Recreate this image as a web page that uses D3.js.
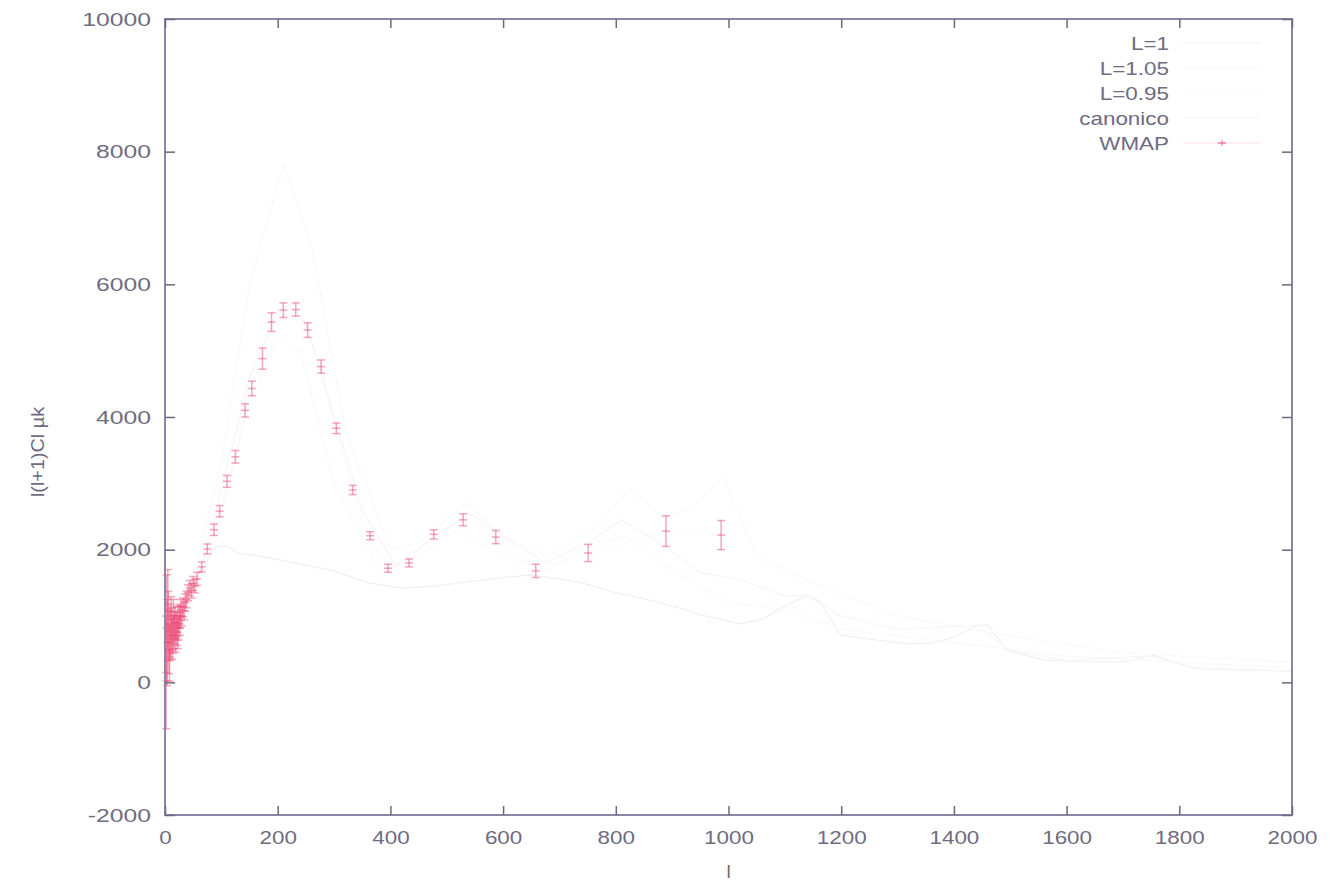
<!DOCTYPE html>
<html lang="en">

<head>
    <meta charset="UTF-8" />
    <title>l(l+1)Cl - WMAP vs models</title>
    <script src="https://d3js.org/d3.v7.min.js"></script>
    <style>
        body {
            margin: 0;
            background: #fff;
        }

        svg text {
            font-family: "Liberation Sans", Arial, sans-serif;
            fill: #6f6b80;
        }
    </style>
</head>

<body>
    <div id="chart"></div>

    <script>
        // tick labels
        const xTicks = [0, 200, 400, 600, 800, 1000, 1200, 1400, 1600, 1800, 2000];
        const yTicks = [-2000, 0, 2000, 4000, 6000, 8000, 10000];

        // legend entries (same order as in the plot key)
        const seriesNames = ["L=1", "L=1.05", "L=0.95", "canonico", "WMAP"];

        const curveL1 = [[2, 900], [10, 800], [30, 1000], [60, 1600], [90, 2050], [110, 2050], [130, 1950],
            [170, 1900], [230, 1800], [300, 1680], [360, 1500], [420, 1420], [480, 1450], [540, 1520],
            [600, 1580], [650, 1620], [700, 1560], [740, 1500], [800, 1350], [880, 1200], [960, 1000],
            [1020, 880], [1060, 950], [1100, 1150], [1140, 1310], [1160, 1230], [1200, 710], [1270, 630],
            [1320, 580], [1360, 590], [1400, 680], [1440, 860], [1460, 860], [1495, 480], [1560, 340],
            [1620, 310], [1700, 310], [1755, 410], [1790, 300], [1830, 210], [1920, 185], [2000, 170]];

        const curveL105 = [[2, 1100], [20, 1000], [50, 1600], [100, 3300], [150, 6000], [210, 7800],
            [260, 6600], [320, 3800], [400, 2000], [450, 2100], [535, 2700], [600, 2200], [680, 1900],
            [760, 2300], [825, 2930], [880, 2500], [930, 2600], [990, 3100], [1050, 1900], [1150, 1500],
            [1300, 1000], [1500, 700], [1700, 450], [2000, 300]];

        const curveL095 = [[2, 1000], [30, 900], [80, 1900], [150, 4200], [200, 5200], [240, 5000],
            [300, 3000], [380, 1700], [450, 1900], [520, 2300], [600, 1900], [680, 1700], [760, 2100],
            [820, 2200], [900, 1700], [1000, 1200], [1100, 1100], [1200, 800], [1400, 600], [1600, 400],
            [1800, 300], [2000, 220]];

        const curveCanonico = [[2, 1000], [10, 800], [30, 1000], [60, 1600], [100, 2900], [150, 4600],
            [200, 5600], [220, 5700], [250, 5400], [300, 4000], [350, 2600], [410, 1750], [470, 2150],
            [540, 2550], [600, 2200], [675, 1800], [750, 2100], [810, 2450], [870, 2150], [950, 1650],
            [1020, 1550], [1100, 1300], [1140, 1310], [1200, 1000], [1300, 800], [1440, 860], [1500, 480],
            [1600, 330], [1750, 400], [1830, 210], [2000, 170]];

        // WMAP points with errors
        const wmapL = [2, 3, 4, 5, 6, 7, 8, 9, 10, 11, 12, 13, 14, 15, 16, 17, 18, 19, 20, 21, 22, 23, 24, 25,
            26, 27, 28, 30, 32, 34, 36, 38, 41, 44, 47, 50, 53, 57, 65, 75, 87, 97, 110, 125, 142, 154, 173,
            189, 210, 232, 253, 277, 304, 333, 364, 396, 433, 477, 529, 587, 658, 751, 889, 987];
        const wmapCl = [150, 820, 600, 1100, 850, 600, 450, 780, 700, 950, 800, 650, 720, 980, 760, 820, 900,
            680, 850, 760, 950, 700, 820, 1000, 880, 980, 1090, 1000, 1130, 1080, 1200, 1250, 1350, 1420, 1380,
            1490, 1450, 1560, 1740, 2010, 2300, 2580, 3030, 3400, 4100, 4430, 4880, 5430, 5610, 5620, 5310,
            4760, 3830, 2900, 2210, 1720, 1800, 2230, 2450, 2190, 1680, 1950, 2280, 2220];
        const wmapErr = [850, 800, 650, 600, 520, 470, 430, 400, 370, 340, 320, 300, 285, 270, 255, 245, 235,
            225, 215, 205, 198, 190, 183, 176, 170, 164, 158, 150, 142, 136, 130, 125, 120, 115, 110, 106, 102,
            98, 75, 75, 85, 85, 90, 95, 100, 110, 160, 140, 110, 100, 110, 100, 80, 70, 60, 60, 60, 70, 90,
            100, 100, 130, 230, 220];

        const width = 1337, height = 883;
        const mLeft = 165, mRight = 1292, mTop = 19, mBottom = 815;

        const svg = d3.select("#chart").append("svg")
            .attr("width", width)
            .attr("height", height);

        const x = d3.scaleLinear().domain([0, 2000]).range([mLeft, mRight]);
        const y = d3.scaleLinear().domain([-2000, 10000]).range([mBottom, mTop]);

        // text in the picture is wider than Liberation Sans, stretch it a bit
        function widen(sel, k) {
            sel.each(function () {
                const w = this.getComputedTextLength();
                this.setAttribute("textLength", w * k);
                this.setAttribute("lengthAdjust", "spacingAndGlyphs");
            });
        }

        const axisColor = "#8a86a6";

        // model curves - almost washed out in the original
        const line = d3.line().x(d => x(d[0])).y(d => y(d[1]));
        const curveColors = ["#f0eef3", "#f9f8fa", "#faf9f9", "#faf3f6"];
        const curves = [curveL1, curveL105, curveL095, curveCanonico];
        const plot = svg.append("g");
        curves.forEach((c, i) => {
            plot.append("path")
                .attr("d", line(c))
                .attr("fill", "none")
                .attr("stroke", curveColors[i])
                .attr("stroke-width", 1.2);
        });

        // WMAP
        const wmap = wmapL.map((l, i) => ({ l: l, v: wmapCl[i], e: wmapErr[i] }));
        const pink = "#ec4f7a";

        plot.append("path")
            .attr("d", d3.line().x(d => x(d.l)).y(d => y(d.v))(wmap))
            .attr("fill", "none")
            .attr("stroke", pink)
            .attr("stroke-opacity", 0.04)
            .attr("stroke-width", 1);

        const pts = plot.selectAll("g.wmap").data(wmap).join("g")
            .attr("class", "wmap")
            .attr("stroke", pink)
            .attr("stroke-opacity", 0.5)
            .attr("stroke-width", 1.5);

        pts.append("line")
            .attr("x1", d => x(d.l)).attr("x2", d => x(d.l))
            .attr("y1", d => y(d.v - d.e)).attr("y2", d => y(d.v + d.e));
        pts.append("line")
            .attr("x1", d => x(d.l) - 4).attr("x2", d => x(d.l) + 4)
            .attr("y1", d => y(d.v - d.e)).attr("y2", d => y(d.v - d.e));
        pts.append("line")
            .attr("x1", d => x(d.l) - 4).attr("x2", d => x(d.l) + 4)
            .attr("y1", d => y(d.v + d.e)).attr("y2", d => y(d.v + d.e));
        pts.append("line")
            .attr("x1", d => x(d.l) - 4).attr("x2", d => x(d.l) + 4)
            .attr("y1", d => y(d.v)).attr("y2", d => y(d.v));

        // frame
        svg.append("rect")
            .attr("x", mLeft).attr("y", mTop)
            .attr("width", mRight - mLeft).attr("height", mBottom - mTop)
            .attr("fill", "none")
            .attr("stroke", axisColor)
            .attr("stroke-width", 2);

        // axes, ticks pointing inward
        const fmt = d => String(d);
        const gx = svg.append("g")
            .attr("transform", `translate(0,${mBottom})`)
            .call(d3.axisBottom(x).tickValues(xTicks).tickFormat(fmt)
                .tickSizeInner(-9).tickSizeOuter(0).tickPadding(16));
        const gy = svg.append("g")
            .attr("transform", `translate(${mLeft},0)`)
            .call(d3.axisLeft(y).tickValues(yTicks).tickFormat(fmt)
                .tickSizeInner(-10).tickSizeOuter(0).tickPadding(14));
        svg.append("g")
            .attr("transform", `translate(0,${mTop})`)
            .call(d3.axisTop(x).tickValues(xTicks).tickSizeInner(-9).tickSizeOuter(0).tickFormat(""));
        svg.append("g")
            .attr("transform", `translate(${mRight},0)`)
            .call(d3.axisRight(y).tickValues(yTicks).tickSizeInner(-10).tickSizeOuter(0).tickFormat(""));

        svg.selectAll(".domain").remove();
        svg.selectAll(".tick line").attr("stroke", "#6c6880").attr("stroke-width", 1.5);
        svg.selectAll(".tick text")
            .attr("font-size", 19)
            .attr("font-family", "Liberation Sans, Arial, sans-serif")
            .attr("fill", "#6f6b80");
        widen(gy.selectAll(".tick text"), 1.3);
        widen(gx.selectAll(".tick text"), 1.18);

        // axis titles
        svg.append("text")
            .attr("x", (mLeft + mRight) / 2)
            .attr("y", 878)
            .attr("text-anchor", "middle")
            .attr("font-size", 19)
            .text("l");

        const yl = svg.append("text")
            .attr("transform", "translate(44,452) rotate(-90)")
            .attr("text-anchor", "middle")
            .attr("font-size", 18)
            .text("l(l+1)Cl µk");
        widen(yl, 1.1);

        // legend
        const legendY = [43, 68, 93, 118, 143];
        const legendColors = curveColors.concat([pink]);
        const legend = svg.append("g");
        seriesNames.forEach((name, i) => {
            const t = legend.append("text")
                .attr("x", 1169)
                .attr("y", legendY[i] + 7)
                .attr("text-anchor", "end")
                .attr("font-size", 19)
                .text(name);
            widen(t, 1.18);
            legend.append("line")
                .attr("x1", 1183).attr("x2", 1260)
                .attr("y1", legendY[i]).attr("y2", legendY[i])
                .attr("stroke", legendColors[i])
                .attr("stroke-opacity", i === 4 ? 0.2 : 1)
                .attr("stroke-width", 1.2);
        });
        legend.append("line")
            .attr("x1", 1218).attr("x2", 1226)
            .attr("y1", legendY[4]).attr("y2", legendY[4])
            .attr("stroke", pink).attr("stroke-opacity", 0.6).attr("stroke-width", 1.6);
        legend.append("line")
            .attr("x1", 1222).attr("x2", 1222)
            .attr("y1", legendY[4] - 3).attr("y2", legendY[4] + 3)
            .attr("stroke", pink).attr("stroke-opacity", 0.6).attr("stroke-width", 1.4);
    </script>
</body>

</html>
